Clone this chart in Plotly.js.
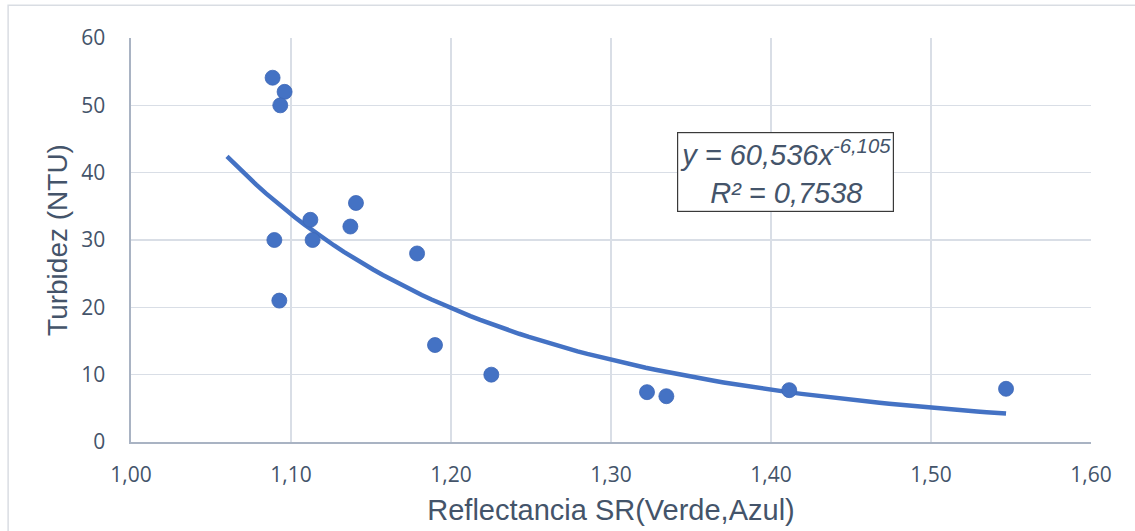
<!DOCTYPE html>
<html>
<head>
<meta charset="utf-8">
<script src="https://cdn.plot.ly/plotly-3.0.1.min.js"></script>
<style>
  html, body { margin: 0; padding: 0; background: #ffffff; }
  #chart { width: 1135px; height: 531px; }
</style>
</head>
<body>
<div id="chart"></div>
<script>
// Green/blue reflectance ratio vs. measured turbidity
const reflectancia = [1.0885, 1.0960, 1.0933, 1.0896, 1.0927, 1.1121, 1.1135, 1.1371,
                      1.1406, 1.1788, 1.1900, 1.2252, 1.3225, 1.3346, 1.4114, 1.5469];
const turbidez     = [54.1, 52.0, 50.0, 30.0, 21.0, 33.0, 30.0, 32.0,
                      35.5, 28.0, 14.4, 10.0, 7.4, 6.8, 7.7, 7.9];

// Power trendline y = a * x^b and its fit statistic
const coefA = 60.536;
const coefB = -6.105;
const r2 = 0.7538;
const trendStart = 1.06;
const trendEnd = Math.max(...reflectancia);

const xTicks = [1.0, 1.1, 1.2, 1.3, 1.4, 1.5, 1.6];
const yTicks = [0, 10, 20, 30, 40, 50, 60];

const trendX = [];
const trendY = [];
const nSteps = 80;
for (let i = 0; i <= nSteps; i++) {
  const x = trendStart + (trendEnd - trendStart) * i / nSteps;
  trendX.push(x);
  trendY.push(coefA * Math.pow(x, coefB));
}

const fmt = (v, d) => v.toFixed(d).replace('.', ',');
const labelText = 'y = ' + fmt(coefA, 3) + 'x<sup>' + fmt(coefB, 3) + '</sup><br>R² = ' + fmt(r2, 4);

const blue = '#4472c4';
const textColor = '#44546a';
const gridColor = '#d9dee6';
const axisColor = '#a9b3c3';

const traces = [
  {
    x: trendX, y: trendY, type: 'scatter', mode: 'lines',
    line: { color: blue, width: 4.5 },
    hoverinfo: 'skip', showlegend: false
  },
  {
    x: reflectancia, y: turbidez, type: 'scatter', mode: 'markers',
    marker: { color: blue, size: 15, line: { color: '#3d67b6', width: 0.8 } },
    showlegend: false
  }
];

const layout = {
  width: 1135, height: 531,
  margin: { l: 131, r: 44, t: 38, b: 89 },
  paper_bgcolor: '#ffffff',
  plot_bgcolor: '#ffffff',
  separators: ',.',
  showlegend: false,
  xaxis: {
    range: [1.0, 1.6], tickvals: xTicks, tickformat: '.2f',
    showgrid: true, gridcolor: gridColor, gridwidth: 1.3,
    zeroline: false, showline: true, linecolor: axisColor, linewidth: 1.6,
    ticks: '', ticklabelstandoff: 13,
    tickfont: { family: 'Open Sans', size: 21, color: textColor },
    title: { text: 'Reflectancia SR(Verde,Azul)', standoff: 13,
             font: { family: 'Liberation Sans, Arial', size: 29, color: textColor } },
    automargin: false
  },
  yaxis: {
    range: [0, 60], tickvals: yTicks,
    showgrid: true, gridcolor: gridColor, gridwidth: 1.3,
    zeroline: false, showline: true, linecolor: axisColor, linewidth: 1.6,
    ticks: '', ticklabelstandoff: 20,
    tickfont: { family: 'Open Sans', size: 21, color: textColor },
    title: { text: 'Turbidez (NTU)', standoff: 5,
             font: { family: 'Liberation Sans, Arial', size: 28, color: textColor } },
    automargin: false
  },
  annotations: [
    {
      x: 1.4088, y: 40.1, xref: 'x', yref: 'y',
      text: labelText, showarrow: false, align: 'center',
      font: { family: 'Liberation Sans, Arial', size: 29, color: textColor, style: 'italic' },
      bgcolor: '#ffffff', bordercolor: '#3a3a3a', borderwidth: 1.2, borderpad: 2
    }
  ],
  shapes: [
    {
      type: 'rect', xref: 'paper', yref: 'paper', layer: 'below',
      x0: -0.128, x1: 1.2, y0: -0.4, y1: 1.081,
      line: { color: '#d9dde3', width: 1.5 }, fillcolor: 'rgba(0,0,0,0)'
    }
  ]
};

Plotly.newPlot('chart', traces, layout, { displayModeBar: false, staticPlot: true });
</script>
</body>
</html>
